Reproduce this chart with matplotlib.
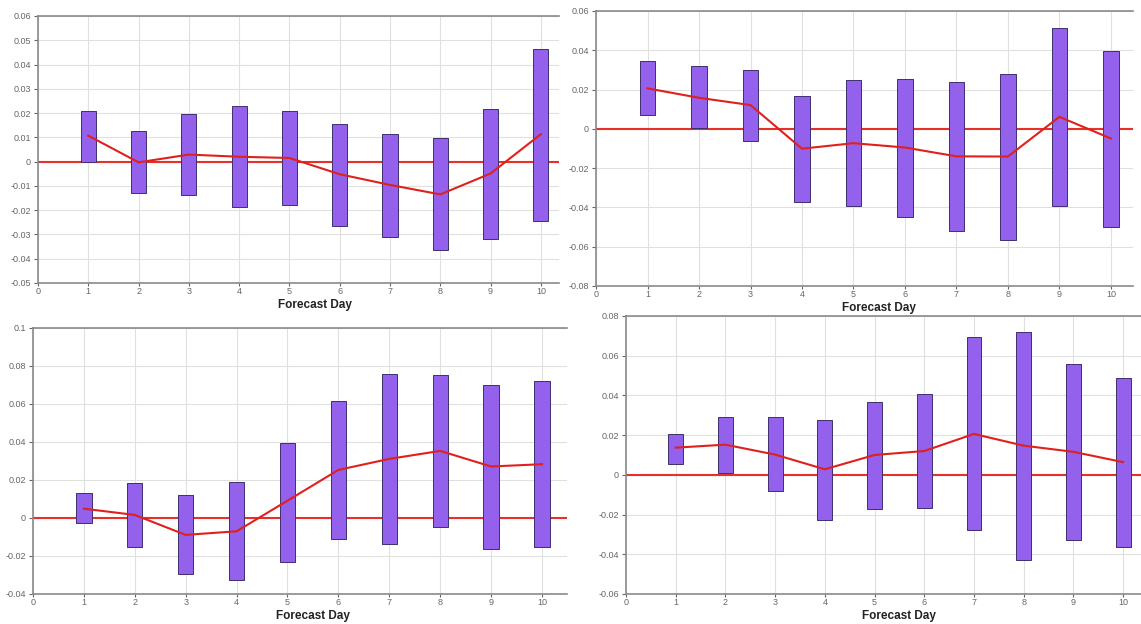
import matplotlib.pyplot as plt
import matplotlib.transforms as mtransforms
import numpy as np

plt.rcParams['font.family'] = ['Liberation Sans', 'DejaVu Sans']

days = np.arange(1, 11)

# panel data: (low, high, mean)
p1_low = [0.0, -0.0128, -0.0139, -0.0189, -0.018, -0.0264, -0.0309, -0.0366, -0.0318, -0.0243]
p1_high = [0.021, 0.0128, 0.0197, 0.0231, 0.0209, 0.0156, 0.0115, 0.0096, 0.0216, 0.0466]
p1_mean = [0.0107, -0.0003, 0.0029, 0.002, 0.0015, -0.0052, -0.0096, -0.0135, -0.0049, 0.0113]

p2_low = [0.0072, 0.0002, -0.0063, -0.0375, -0.0392, -0.0448, -0.0518, -0.0567, -0.0392, -0.0501]
p2_high = [0.0344, 0.0319, 0.0298, 0.0167, 0.0247, 0.0254, 0.0238, 0.0278, 0.0513, 0.0395]
p2_mean = [0.0206, 0.0158, 0.0121, -0.0101, -0.0073, -0.0095, -0.014, -0.0141, 0.0061, -0.0049]

p3_low = [-0.0026, -0.0154, -0.0297, -0.0327, -0.0231, -0.011, -0.0136, -0.0049, -0.0163, -0.0154]
p3_high = [0.0129, 0.0184, 0.0121, 0.0191, 0.0397, 0.0614, 0.076, 0.075, 0.0698, 0.0719]
p3_mean = [0.0049, 0.0016, -0.0089, -0.007, 0.0091, 0.0253, 0.0311, 0.0353, 0.0271, 0.0283]

p4_low = [0.0057, 0.001, -0.0082, -0.0228, -0.0174, -0.0169, -0.0278, -0.0429, -0.033, -0.0365]
p4_high = [0.0208, 0.029, 0.029, 0.0276, 0.0365, 0.0405, 0.0693, 0.0719, 0.0559, 0.0487]
p4_mean = [0.0137, 0.0152, 0.0102, 0.0028, 0.01, 0.012, 0.0206, 0.0147, 0.0116, 0.0064]

panels = [
    # rect (l, b, w, h), xmax, ylim, ytick step, data
    ([0.0333, 0.5465, 0.4566, 0.4279], 10.36, (-0.05, 0.06), 0.01, p1_low, p1_high, p1_mean),
    ([0.5224, 0.5417, 0.4706, 0.4407], 10.43, (-0.08, 0.06), 0.02, p2_low, p2_high, p2_mean),
    ([0.0289, 0.0481, 0.4680, 0.4263], 10.49, (-0.04, 0.1), 0.02, p3_low, p3_high, p3_mean),
    ([0.5486, 0.0481, 0.4514, 0.4455], 10.36, (-0.06, 0.08), 0.02, p4_low, p4_high, p4_mean),
]

fig = plt.figure(figsize=(11.41, 6.24), dpi=100)

for rect, xmax, ylim, step, low, high, mean in panels:
    ax = fig.add_axes(rect)
    low = np.array(low)
    high = np.array(high)
    ax.bar(days, high - low, bottom=low, width=0.3, color='#9461ec',
           edgecolor='#3d2f6e', linewidth=0.7, zorder=3)
    ax.axhline(0, color='#e8302a', linewidth=1.5, zorder=2)
    ax.plot(days, mean, color='#e0201c', linewidth=1.5, zorder=4)

    ax.set_xlim(0, xmax)
    ax.set_ylim(*ylim)
    ax.set_xticks(np.arange(0, 11))
    yt = np.round(np.arange(ylim[0], ylim[1] + step / 2, step), 3)
    ax.set_yticks(yt)
    ax.set_yticklabels(['0' if v == 0 else ('%g' % v) for v in yt])
    ax.grid(True, color='#e0e0e0', linewidth=0.8, zorder=0)
    ax.set_axisbelow(True)
    ax.tick_params(labelsize=6.5, colors='#666666', length=3, width=0.8, pad=2)
    ax.tick_params(axis='x', length=2, pad=1)
    for s in ['left', 'bottom', 'top']:
        ax.spines[s].set_color('#8a8a8a')
        ax.spines[s].set_linewidth(1.2)
    ax.spines['right'].set_visible(False)

    trans = mtransforms.blended_transform_factory(ax.transData, ax.transAxes)
    ax.annotate('Forecast Day', xy=(5.5, 0), xycoords=trans, xytext=(0, -11.5),
                textcoords='offset points', ha='center', va='top',
                fontsize=8.5, fontweight='bold', color='#222222')

fig.savefig('out.png', dpi=100)
